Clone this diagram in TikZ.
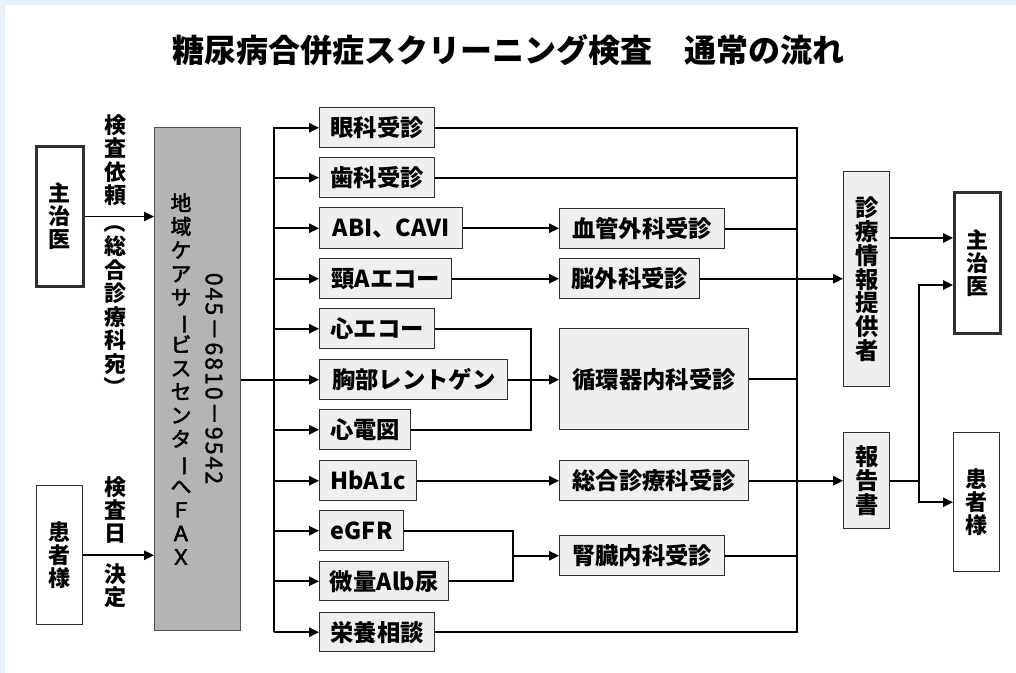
\documentclass[tikz,border=0pt]{standalone}
\usepackage{fontspec}
\usepackage{graphicx}
\setmainfont{Noto Sans CJK JP}
\newfontfamily\medjp{Noto Sans CJK JP}[FakeBold=2.5]
\newfontfamily\medjpnum{Noto Sans CJK JP}[FakeBold=1.2, LetterSpace=8]
\usetikzlibrary{arrows.meta}
\definecolor{bgblue}{HTML}{E8F2FC}
\definecolor{boxfill}{HTML}{EFEFEF}
\definecolor{grayfill}{HTML}{B4B4B4}
\definecolor{edge}{HTML}{303030}
\newcommand{\vbar}{\rotatebox[origin=c]{-90}{ー}}
\newcommand{\vpo}{\rotatebox[origin=c]{-90}{（}}
\newcommand{\vpc}{\rotatebox[origin=c]{-90}{）}}
\tikzset{
  box/.style={draw=edge, line width=1.1pt, fill=boxfill, inner sep=0pt, align=center,
    font=\bfseries\fontsize{17.5pt}{17.8pt}\selectfont},
  whitebox/.style={draw=edge, line width=1.1pt, fill=white, inner sep=0pt, align=center,
    font=\bfseries\fontsize{16.5pt}{17.2pt}\selectfont},
  thickbox/.style={whitebox, line width=2.2pt},
  graybox/.style={draw=edge!85, line width=1.1pt, fill=grayfill, inner sep=0pt},
  vlab/.style={align=center, inner sep=0pt, font=\bfseries\fontsize{16.5pt}{17.6pt}\selectfont},
  glab/.style={align=center, inner sep=0pt, font=\medjp\fontsize{15.5pt}{17.7pt}\selectfont},
  conn/.style={line width=1.4pt, line cap=rect},
  arr/.style={line width=1.4pt, -{Triangle[length=7.5pt,width=7pt]}},
}
\newcommand{\mybox}[7][box]{\node[#1, anchor=north west, minimum width={(#4-#2)*0.75pt}, minimum height={(#5-#3)*0.75pt}] (#6) at (#2,#3) {#7};}
\begin{document}
\begin{tikzpicture}[x=0.75pt, y=-0.75pt]
\useasboundingbox (0,0) rectangle (1016,673);
\fill[white] (0,0) rectangle (1016,673);
\fill[bgblue] (0,0) rectangle (1016,5);
\fill[bgblue] (0,0) rectangle (5,673);

\node[font=\bfseries\fontsize{24pt}{28pt}\selectfont] (title) at (508,50) {糖尿病合併症スクリーニング検査　通常の流れ};

% left column
\mybox[thickbox]{35}{145}{82}{285}{docL}{主\\治\\医}
\mybox[whitebox]{36}{485}{82}{624}{patL}{患\\者\\様}
\node[vlab] (l1) at (115,160) {検\\査\\依\\頼};
\node[vlab] (l2) at (115,305) {\vpo\\総\\合\\診\\療\\科\\宛\\\vpc};
\node[vlab] (l3) at (115,510) {検\\査\\日};
\node[vlab] (l4) at (115,585.5) {決\\定};

% gray box
\node[graybox, anchor=north west, minimum width={86*0.75pt}, minimum height={503*0.75pt}] (gray) at (154,127) {};
\node[glab] (gtxt) at (181,379) {地\\域\\ケ\\ア\\サ\\\vbar\\ビ\\ス\\セ\\ン\\タ\\\vbar\\へ\\Ｆ\\Ａ\\Ｘ};
\node[rotate=-90, inner sep=0pt, font=\medjpnum\fontsize{17.5pt}{20pt}\selectfont] (gnum) at (214,378.5) {045－6810－9542};

% examination boxes
\mybox{319}{107}{434}{147}{eye}{眼科受診}
\mybox{319}{157}{434}{197}{dent}{歯科受診}
\mybox{319}{207}{462}{248}{abi}{ABI、CAVI}
\mybox{319}{258}{451}{298}{neck}{頸Aエコー}
\mybox{319}{308}{434}{348}{heco}{心エコー}
\mybox{319}{359}{507}{399}{chest}{胸部レントゲン}
\mybox{319}{409}{410}{449}{ecg}{心電図}
\mybox{319}{460}{416}{500}{hba}{HbA1c}
\mybox{319}{510}{403}{550}{egfr}{eGFR}
\mybox{319}{561}{448}{600}{micro}{微量Alb尿}
\mybox{319}{612}{434}{651}{food}{栄養相談}

% departments
\mybox{559}{208}{724}{248}{vasc}{血管外科受診}
\mybox{559}{258}{699}{298}{brain}{脳外科受診}
\mybox{559}{328}{748}{429}{card}{循環器内科受診}
\mybox{559}{460}{748}{500}{gen}{総合診療科受診}
\mybox{559}{535}{724}{575}{kid}{腎臓内科受診}

% right column
\mybox{843}{171}{889}{386}{info}{診\\療\\情\\報\\提\\供\\者}
\mybox{843}{432}{889}{528}{rep}{報\\告\\書}
\mybox[thickbox]{953}{191}{999}{332}{docR}{主\\治\\医}
\mybox[whitebox]{953}{432}{999}{571}{patR}{患\\者\\様}

% helper coordinates
\coordinate (dx) at (274,0);
\coordinate (cx) at (797,0);
\coordinate (hx) at (531,0);
\coordinate (kx) at (513,0);
\coordinate (rx) at (919,0);
\coordinate (infoOut) at (889,238);
\coordinate (docRin) at (953,285);

% left arrows
\draw[arr] (docL.east) -- (docL.east -| gray.west);
\draw[arr] (patL.east) -- (patL.east -| gray.west);

% distribution
\draw[arr] (food.west -| dx) -- (eye.west -| dx) -- (eye.west);
\draw[arr] (food.west -| dx) -- (food.west);
\foreach \n in {dent,abi,neck,heco,ecg,hba,egfr,micro}
  \draw[arr] (\n.west -| dx) -- (\n.west);
\draw[arr] (gray.east |- chest.west) -- (chest.west);

% to departments
\draw[arr] (abi.east) -- (abi.east -| vasc.west);
\draw[arr] (neck.east) -- (neck.east -| brain.west);
\draw[conn] (heco.east) -- (heco.east -| hx) -- (ecg.east -| hx) -- (ecg.east);
\draw[arr] (chest.east) -- (chest.east -| card.west);
\draw[arr] (hba.east) -- (hba.east -| gen.west);
\draw[conn] (egfr.east) -- (egfr.east -| kx) -- (micro.east -| kx) -- (micro.east);
\draw[arr] (kx |- kid.west) -- (kid.west);

% collector
\draw[conn] (eye.east) -- (eye.east -| cx) -- (food.east -| cx) -- (food.east);
\draw[conn] (dent.east) -- (dent.east -| cx);
\draw[conn] (vasc.east) -- (vasc.east -| cx);
\draw[conn] (card.east) -- (card.east -| cx);
\draw[conn] (kid.east) -- (kid.east -| cx);
\draw[arr] (brain.east) -- (brain.east -| info.west);
\draw[arr] (gen.east) -- (gen.east -| rep.west);

% right
\draw[arr] (infoOut) -- (infoOut -| docR.west);
\draw[conn] (rep.east) -- (rep.east -| rx);
\draw[arr] (rep.east -| rx) |- (docRin);
\draw[arr] (rep.east -| rx) |- (patR.west);
\end{tikzpicture}
\end{document}
